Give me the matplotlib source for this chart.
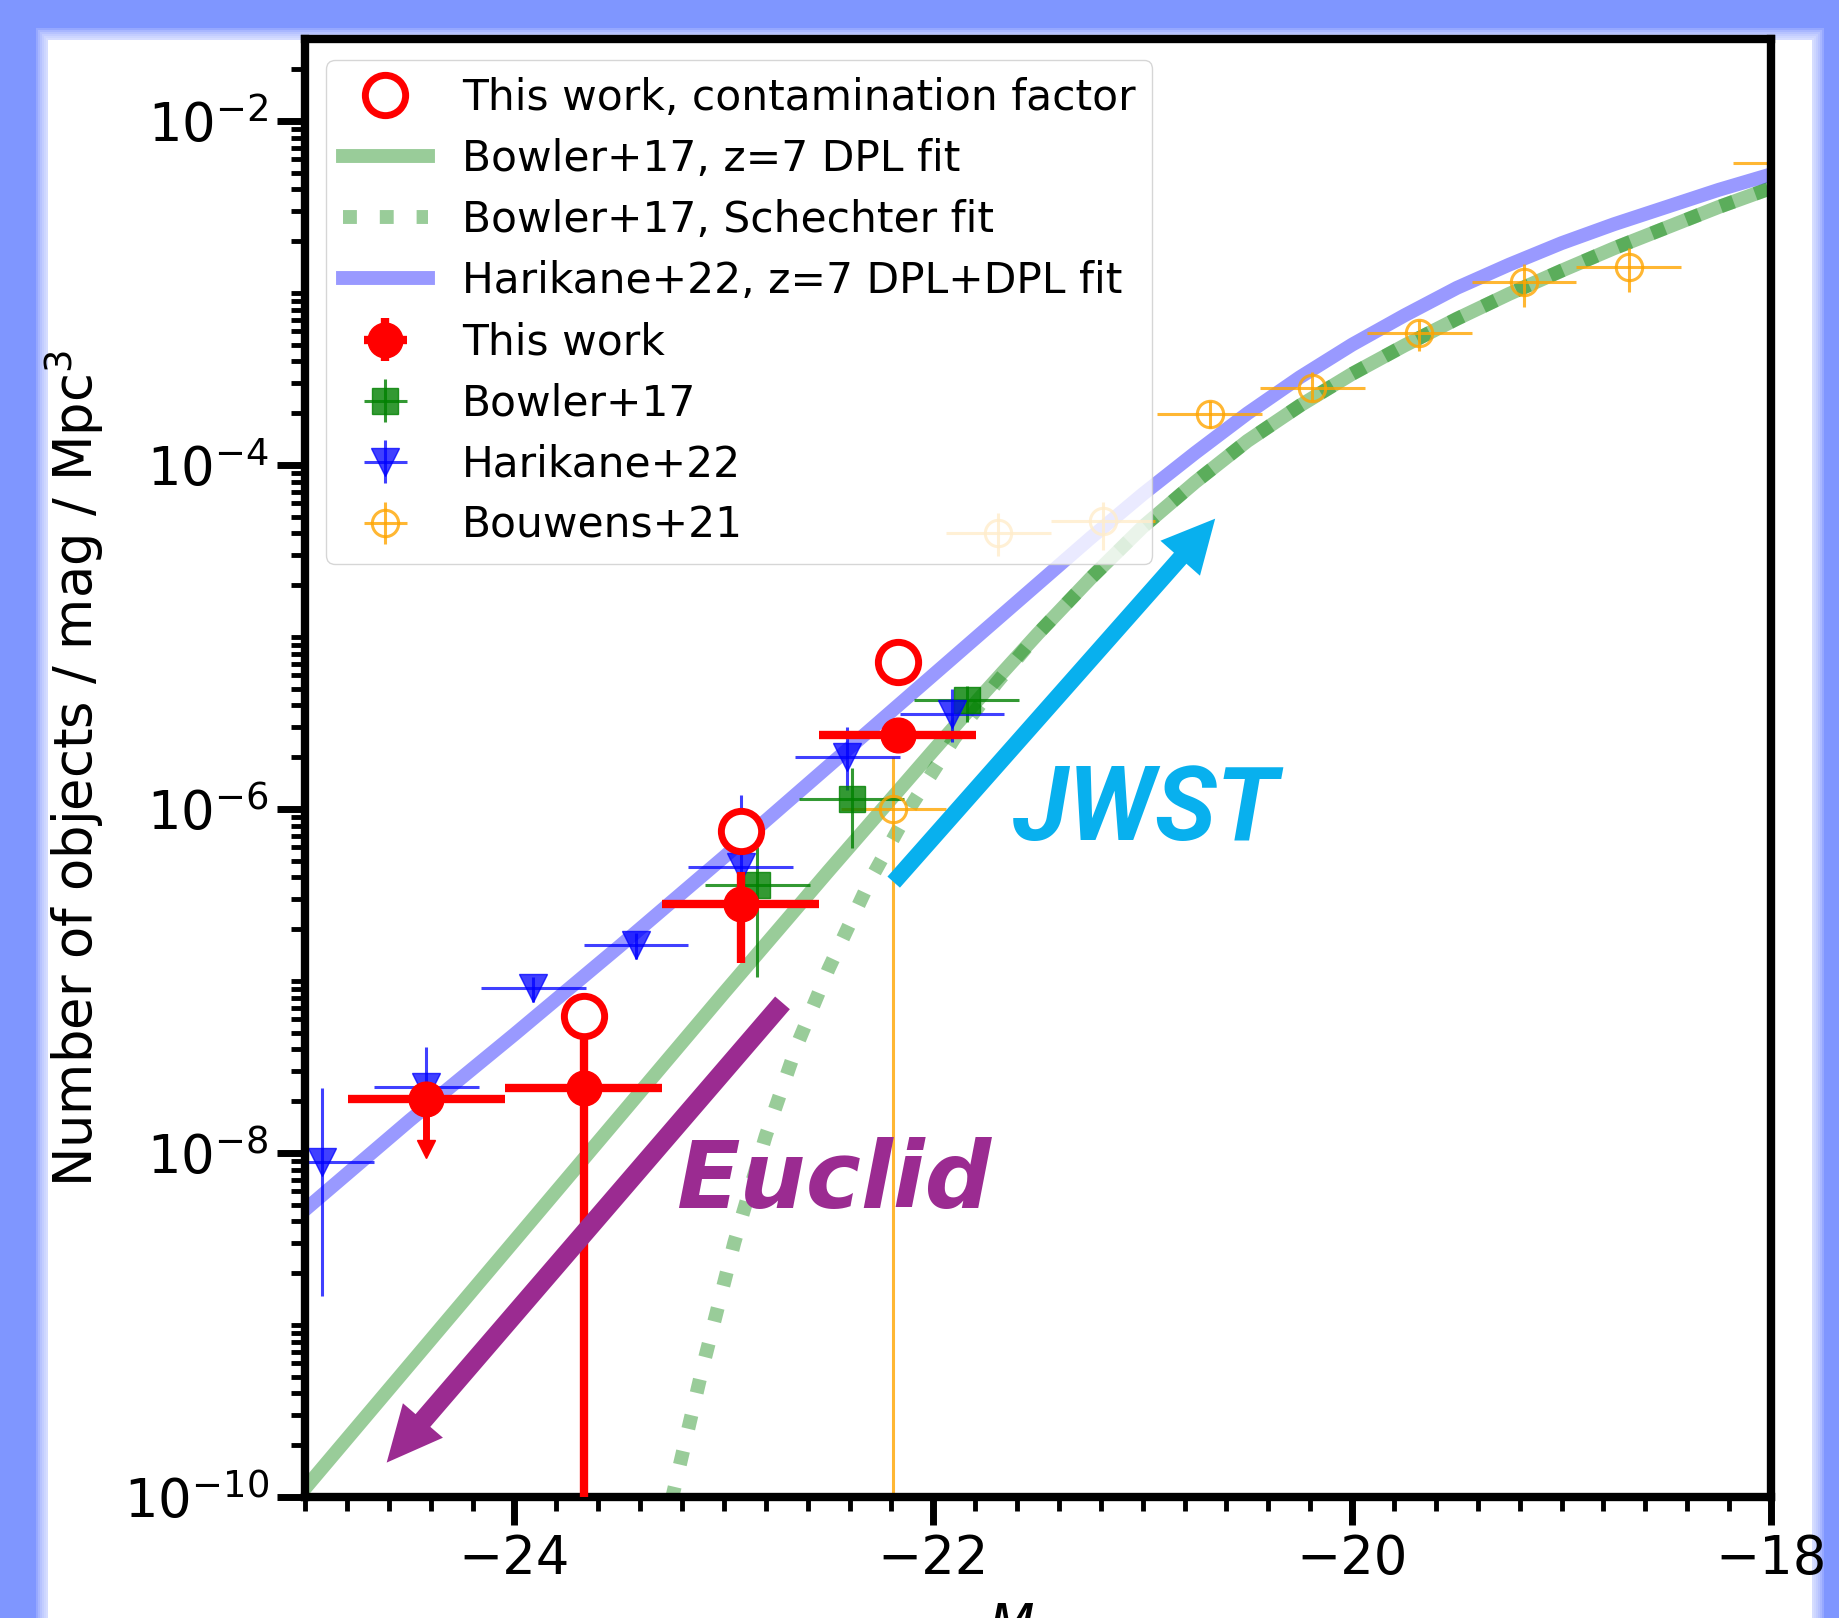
import matplotlib
matplotlib.use("Agg")
import matplotlib.pyplot as plt
import numpy as np
from matplotlib.patches import Rectangle
from matplotlib.ticker import LogLocator, MultipleLocator, NullFormatter

# ---------------- data ----------------
# Bowler+17, z=7 DPL fit (M_UV, log10 phi)
dpl_M = [-25.0, -24.75, -24.5, -24.25, -24.0, -23.75, -23.5, -23.25, -23.0, -22.75,
         -22.5, -22.25, -22.0, -21.75, -21.5, -21.25, -21.0, -20.75, -20.5, -20.25,
         -20.0, -19.75, -19.5, -19.25, -19.0, -18.75, -18.5, -18.25, -18.0]
dpl_logphi = [-9.95, -9.59, -9.23, -8.87, -8.51, -8.15, -7.79, -7.43, -7.07, -6.715,
              -6.36, -6.01, -5.66, -5.315, -4.98, -4.66, -4.36, -4.10, -3.86, -3.655,
              -3.47, -3.305, -3.15, -3.005, -2.87, -2.74, -2.62, -2.50, -2.39]

# Bowler+17, Schechter fit
sch_M = [-23.25, -23.1, -22.95, -22.8, -22.65, -22.5, -22.3, -22.1, -21.9, -21.7,
         -21.5, -21.25, -21.0, -20.75, -20.5, -20.25, -20.0, -19.75, -19.5, -19.25,
         -19.0, -18.75, -18.5, -18.25, -18.0]
sch_logphi = [-10.02, -9.24, -8.52, -7.90, -7.37, -6.93, -6.41, -5.97, -5.59, -5.27,
              -4.98, -4.66, -4.36, -4.10, -3.86, -3.655, -3.47, -3.305, -3.15, -3.005,
              -2.87, -2.74, -2.62, -2.50, -2.39]

# Harikane+22, z=7 DPL+DPL fit
har_fit_M = [-25.0, -24.75, -24.5, -24.25, -24.0, -23.75, -23.5, -23.25, -23.0, -22.75,
             -22.5, -22.25, -22.0, -21.75, -21.5, -21.25, -21.0, -20.75, -20.5, -20.25,
             -20.0, -19.75, -19.5, -19.25, -19.0, -18.75, -18.5, -18.25, -18.0]
har_fit_logphi = [-8.33, -8.07, -7.81, -7.56, -7.31, -7.055, -6.80, -6.54, -6.28, -6.015,
                  -5.75, -5.485, -5.22, -4.955, -4.69, -4.425, -4.17, -3.93, -3.70, -3.49,
                  -3.30, -3.13, -2.97, -2.835, -2.71, -2.60, -2.50, -2.40, -2.31]

# This work
tw_M = [-24.42, -23.67, -22.92, -22.17]
tw_phi = [2.06e-8, 2.38e-8, 2.80e-7, 2.69e-6]
tw_lo = [2.06e-8, 1e-12, 1.28e-7, 2.3e-6]
tw_hi = [2.06e-8, 4.85e-8, 4.3e-7, 3.1e-6]
tw_dM = [0.375, 0.375, 0.375, 0.375]
# upper limit (brightest bin)
ul_M = [-24.42]
ul_from = [2.06e-8]
ul_to = [1.05e-8]

# This work, contamination factor
cf_M = [-23.67, -22.92, -22.17]
cf_phi = [6.3e-8, 7.5e-7, 7.2e-6]

# Bowler+17
bo_M = [-22.84, -22.39, -21.84]
bo_phi = [3.6e-7, 1.15e-6, 4.28e-6]
bo_lo = [1.06e-7, 5.9e-7, 3.2e-6]
bo_hi = [6.0e-7, 1.73e-6, 5.2e-6]
bo_dM = [0.25, 0.25, 0.25]

# Harikane+22
ha_M = [-24.92, -24.42, -23.91, -23.42, -22.92, -22.41, -21.91]
ha_phi = [8.9e-9, 2.43e-8, 9.06e-8, 1.62e-7, 4.6e-7, 2.0e-6, 3.59e-6]
ha_lo = [1.48e-9, 1.3e-8, 7.6e-8, 1.35e-7, 2.3e-7, 1.29e-6, 2.45e-6]
ha_hi = [2.38e-8, 4.15e-8, 1.06e-7, 1.9e-7, 1.2e-6, 3.0e-6, 5.0e-6]
ha_dM = [0.25] * 7

# Bouwens+21
bw_M = [-22.19, -21.69, -21.19, -20.68, -20.19, -19.68, -19.18, -18.68, -17.93]
bw_phi = [1.0e-6, 4.0e-5, 4.7e-5, 1.97e-4, 2.81e-4, 5.87e-4, 1.16e-3, 1.42e-3, 5.7e-3]
bw_lo = [1e-12, 2.95e-5, 3.2e-5, 1.65e-4, 2.37e-4, 4.63e-4, 8.35e-4, 1.01e-3, 4.5e-3]
bw_hi = [2.0e-6, 5.25e-5, 6.1e-5, 2.35e-4, 3.47e-4, 7.0e-4, 1.48e-3, 1.83e-3, 7.0e-3]
bw_dM = [0.25] * 9


def asym(phi, lo, hi):
    phi = np.array(phi)
    return [phi - np.array(lo), np.array(hi) - phi]


plt.rcParams["font.family"] = ["DejaVu Sans"]

fig = plt.figure(figsize=(18.39, 16.18), dpi=100, facecolor="#7f96ff")
# white panel with a soft edge
x0, y0, x1, y1 = 48 / 1839, 0.0, 1812 / 1839, 1 - 40 / 1618
for i in range(6):
    d = (6 - i) * 2.0
    fig.patches.append(Rectangle((x0 - d / 1839, y0), (x1 - x0) + 2 * d / 1839,
                                 (y1 - y0) + d / 1618, transform=fig.transFigure,
                                 facecolor="white", alpha=0.18, edgecolor="none", zorder=-20))
fig.patches.append(Rectangle((x0, y0), x1 - x0, y1 - y0, transform=fig.transFigure,
                             facecolor="white", edgecolor="none", zorder=-19))

ax = fig.add_axes([305 / 1839, 121 / 1618, 1466 / 1839, 1458 / 1618])
ax.set_facecolor("white")

# fits
ax.plot(cf_M, cf_phi, "o", ms=29, mfc="white", mec="red", mew=5,
        label="This work, contamination factor", zorder=3.2)
ax.plot(dpl_M, 10 ** np.array(dpl_logphi), "-", color="green", alpha=0.4, lw=10,
        label="Bowler+17, z=7 DPL fit", zorder=1)
ax.plot(sch_M, 10 ** np.array(sch_logphi), ":", color="green", alpha=0.4, lw=10,
        label="Bowler+17, Schechter fit", zorder=1)
ax.plot(har_fit_M, 10 ** np.array(har_fit_logphi), "-", color="blue", alpha=0.4, lw=10,
        label="Harikane+22, z=7 DPL+DPL fit", zorder=1)

# data points
ax.errorbar(tw_M, tw_phi, xerr=tw_dM, yerr=asym(tw_phi, tw_lo, tw_hi), fmt="o",
            color="red", ms=25, elinewidth=6, capsize=0, label="This work", zorder=3)
ax.vlines(ul_M, ul_to, ul_from, color="red", lw=5, zorder=3)
ax.plot(ul_M, ul_to, "v", color="red", ms=13, zorder=3)

ax.errorbar(bo_M, bo_phi, xerr=bo_dM, yerr=asym(bo_phi, bo_lo, bo_hi), fmt="s",
            color="green", ms=19, elinewidth=2.2, alpha=0.8, capsize=0,
            label="Bowler+17", zorder=2.2)
ax.errorbar(ha_M, ha_phi, xerr=ha_dM, yerr=asym(ha_phi, ha_lo, ha_hi), fmt="v",
            color="blue", ms=20, elinewidth=2.2, alpha=0.75, capsize=0,
            label="Harikane+22", zorder=2.3)
ax.errorbar(bw_M, bw_phi, xerr=bw_dM, yerr=asym(bw_phi, bw_lo, bw_hi), fmt="o",
            color="orange", mfc="none", ms=19, mew=2.2, elinewidth=2.2, alpha=0.8,
            capsize=0, label="Bouwens+21", zorder=2.1)

# JWST / Euclid arrows
ax.annotate("", xy=(-20.654, 10 ** -4.312), xytext=(-22.189, 10 ** -6.425),
            arrowprops=dict(width=12, headwidth=38, headlength=38, shrink=0,
                            facecolor="#08b0ee", edgecolor="none"), zorder=4)
ax.annotate("", xy=(-24.61, 10 ** -9.80), xytext=(-22.72, 10 ** -7.127),
            arrowprops=dict(width=14, headwidth=38, headlength=40, shrink=0,
                            facecolor="#9b2b91", edgecolor="none"), zorder=4)
ax.text(-20.99, 10 ** -6.181, "JWST", color="#08b0ee", fontsize=74, fontweight="bold",
        fontstyle="italic", family=["Roboto", "DejaVu Sans"],
        ha="center", va="baseline", zorder=4)
ax.text(-22.477, 10 ** -8.32, "Euclid", color="#9b2b91", fontsize=67, fontweight="bold",
        fontstyle="italic", family=["DejaVu Sans"],
        ha="center", va="baseline", zorder=4)

ax.set_yscale("log")
ax.set_xlim(-25, -18)
ax.set_ylim(1e-10, 10 ** -1.523)
ax.xaxis.set_major_locator(MultipleLocator(2))
ax.xaxis.set_minor_locator(MultipleLocator(0.2))
ax.set_yticks([1e-10, 1e-8, 1e-6, 1e-4, 1e-2])
ax.yaxis.set_minor_locator(LogLocator(base=10, subs=np.arange(1, 10), numticks=100))
ax.yaxis.set_minor_formatter(NullFormatter())

for s in ax.spines.values():
    s.set_linewidth(6)
ax.tick_params(which="major", length=20, width=5, labelsize=38, pad=6)
ax.tick_params(which="minor", length=10, width=3.5)

ax.set_xlabel(r"$M_{\rm UV}$", fontsize=38)
ax.set_ylabel(r"Number of objects / mag / Mpc$^3$", fontsize=38)
ax.xaxis.set_label_coords(0.5, -0.072)
ax.yaxis.set_label_coords(-0.136, 0.5)

ax.legend(loc="upper left", fontsize=30.5, handlelength=2.0, labelspacing=0.45,
          borderaxespad=0.5)

fig.savefig("out.png", dpi=100, facecolor=fig.get_facecolor())
